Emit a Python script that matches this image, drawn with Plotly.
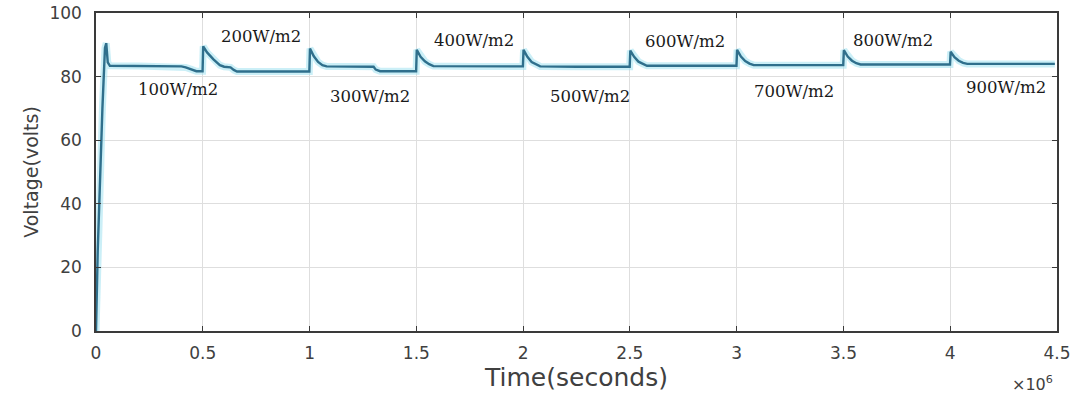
import plotly.graph_objects as go

# Time in units of 1e6 (axis shows x10^6)
time_x1e6 = [0.0, 0.008, 0.030, 0.042, 0.048, 0.055, 0.065, 0.20, 0.40, 0.42, 0.45, 0.47, 0.499,
             0.502, 0.52, 0.55, 0.58, 0.60, 0.63, 0.645, 0.66, 0.80, 0.999,
             1.002, 1.02, 1.04, 1.06, 1.08, 1.20, 1.30, 1.31, 1.33, 1.45, 1.499,
             1.502, 1.52, 1.54, 1.56, 1.58, 1.75, 1.999,
             2.002, 2.02, 2.04, 2.06, 2.08, 2.25, 2.499,
             2.502, 2.52, 2.54, 2.56, 2.58, 2.75, 2.999,
             3.002, 3.02, 3.04, 3.06, 3.08, 3.25, 3.499,
             3.502, 3.52, 3.54, 3.56, 3.58, 3.75, 3.999,
             4.002, 4.02, 4.04, 4.06, 4.08, 4.25, 4.49]
voltage = [0.0, 25.0, 70.0, 89.0, 90.5, 84.5, 83.4, 83.3, 83.2, 82.9, 82.2, 81.7, 81.7,
           89.5, 87.6, 85.4, 83.6, 83.1, 82.9, 82.1, 81.6, 81.6, 81.6,
           88.8, 86.4, 84.6, 83.6, 83.2, 83.2, 83.1, 82.2, 81.7, 81.7, 81.7,
           88.4, 86.2, 84.8, 83.9, 83.3, 83.2, 83.2,
           88.4, 86.2, 84.6, 83.9, 83.2, 83.1, 83.1,
           88.2, 86.2, 84.7, 84.0, 83.4, 83.4, 83.4,
           88.4, 86.3, 84.9, 84.1, 83.6, 83.6, 83.6,
           88.3, 86.3, 85.0, 84.2, 83.8, 83.8, 83.8,
           87.8, 86.1, 85.0, 84.3, 84.0, 84.0, 84.0]

label_text = ["100W/m2", "200W/m2", "300W/m2", "400W/m2", "500W/m2",
              "600W/m2", "700W/m2", "800W/m2", "900W/m2"]
label_x = [0.384, 0.772, 1.283, 1.77, 2.313, 2.76, 3.27, 3.73, 4.26]
label_y = [75.8, 92.5, 73.6, 91.5, 73.9, 90.9, 75.2, 91.5, 76.7]

x_ticks = [0, 0.5, 1, 1.5, 2, 2.5, 3, 3.5, 4, 4.5]
x_ticktext = ["0", "0.5", "1", "1.5", "2", "2.5", "3", "3.5", "4", "4.5"]
y_ticks = [0, 20, 40, 60, 80, 100]

fig = go.Figure()
fig.add_trace(go.Scatter(x=time_x1e6, y=voltage, mode="lines",
                         line=dict(color="rgba(160,225,240,0.55)", width=7),
                         hoverinfo="skip", showlegend=False))
fig.add_trace(go.Scatter(x=time_x1e6, y=voltage, mode="lines",
                         line=dict(color="#2f6f8c", width=2.4),
                         showlegend=False))

for t, xx, yy in zip(label_text, label_x, label_y):
    fig.add_annotation(x=xx, y=yy, xref="x", yref="y", text=t, showarrow=False,
                       font=dict(family="DejaVu Serif", size=16.5, color="#1a1a1a"))

fig.add_annotation(x=0.998, y=-0.165, xref="paper", yref="paper", xanchor="right", yanchor="middle",
                   text="\u00d710<sup>6</sup>", showarrow=False,
                   font=dict(family="DejaVu Sans", size=16, color="#404040"))

axis_common = dict(showline=True, linecolor="#3a3a3a", linewidth=1.5, mirror="ticks",
                   ticks="inside", ticklen=5, tickwidth=1.2, tickcolor="#3a3a3a",
                   showgrid=True, gridcolor="#dedede", gridwidth=1, zeroline=False,
                   automargin=False, ticklabeloverflow="allow",
                   tickfont=dict(family="DejaVu Sans", size=17, color="#404040"))

fig.update_xaxes(range=[0, 4.5], tickvals=x_ticks, ticktext=x_ticktext,
                 ticklabelstandoff=6,
                 title=dict(text="Time(seconds)", standoff=5,
                            font=dict(family="DejaVu Sans", size=25, color="#404040")),
                 **axis_common)
fig.update_yaxes(range=[0, 100], tickvals=y_ticks, ticklabelstandoff=9,
                 title=dict(text="Voltage(volts)", standoff=6,
                            font=dict(family="DejaVu Sans", size=19, color="#404040")),
                 **axis_common)

fig.update_layout(width=1073, height=394, margin=dict(l=96, r=16, t=13, b=63),
                  plot_bgcolor="white", paper_bgcolor="white")

# remove the page's default body margin so the figure fills the window exactly
fig.write_html("out.html", config={"displayModeBar": False},
               post_script="document.body.style.margin='0';")
